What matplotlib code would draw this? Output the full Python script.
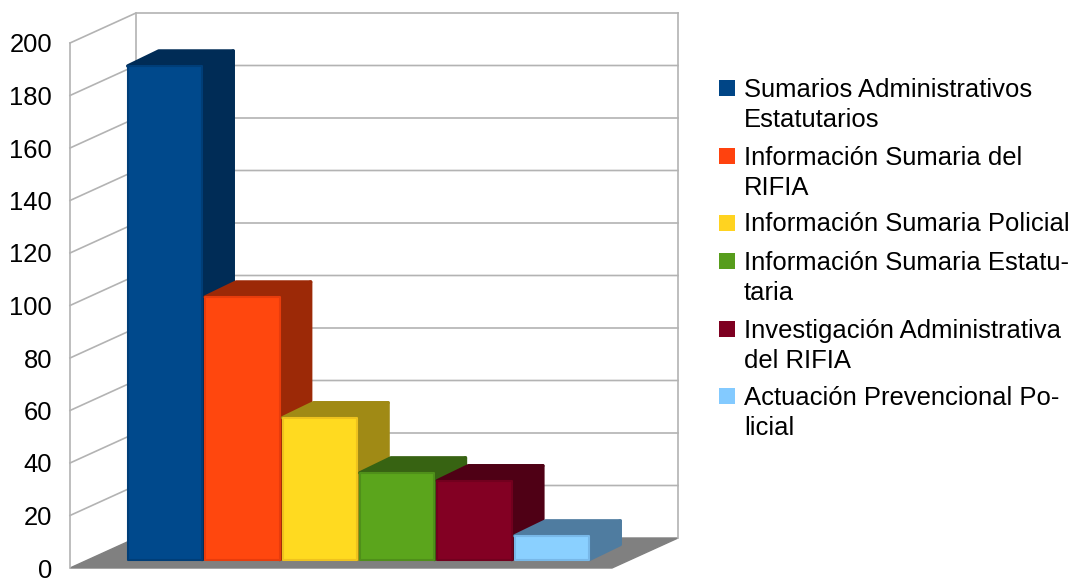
import matplotlib
matplotlib.use('Agg')
import matplotlib.pyplot as plt
from matplotlib.patches import Polygon, Rectangle
from matplotlib.transforms import Affine2D

plt.rcParams['font.family'] = ['Liberation Sans', 'DejaVu Sans']

WIDTH = 1075
HEIGHT = 578

# Chart values
values = [188, 100, 54, 33, 30, 9]
tick_values = [0, 20, 40, 60, 80, 100, 120, 140, 160, 180, 200]
legend_colors = ['#004586', '#ff420e', '#ffd320', '#579d1c', '#7e0021', '#83caff']
front_colors = ['#00498c', '#ff470e', '#ffda20', '#5ba51c', '#830023', '#8ad0ff']
side_colors = ['#002c56', '#9c2907', '#a08a15', '#376312', '#4f0015', '#4f7ca0']
edge_colors = ['#003e78', '#e83c0c', '#eec21e', '#4f8f1a', '#72001e', '#78b8e8']
legend_lines = [
    ['Sumarios Administrativos', 'Estatutarios'],
    ['Información Sumaria del', 'RIFIA'],
    ['Información Sumaria Policial'],
    ['Información Sumaria Estatu-', 'taria'],
    ['Investigación Administrativa', 'del RIFIA'],
    ['Actuación Prevencional Po-', 'licial'],
]
legend_baselines = [[97, 127], [165, 195], [231], [270, 300], [338, 368], [405, 435]]
legend_swatch_tops = [80, 148, 215, 253, 321, 388]

# Pixels per value and per bar position
PX_PER_VALUE = 2.625
BAR_PITCH = 77.4
BAR_WIDTH = 74.5 / BAR_PITCH
BAR_START = 165
BAR_BASE = 559.5
DEPTH_X = 31 / BAR_PITCH
DEPTH_Y = 15 / PX_PER_VALUE

GRID = '#b3b3b3'
FONT_SIZE = 18.45

fig = plt.figure(figsize=(WIDTH / 100, HEIGHT / 100), dpi=100)
ax = fig.add_axes([0, 0, 1, 1])
ax.set_xlim(-BAR_START / BAR_PITCH, (WIDTH - BAR_START) / BAR_PITCH)
ax.set_ylim((BAR_BASE - HEIGHT) / PX_PER_VALUE, BAR_BASE / PX_PER_VALUE)
ax.axis('off')

# Pixel coordinates, origin top left, for the frame and the legend
px = Affine2D().scale(1 / WIDTH, -1 / HEIGHT).translate(0, 1) + fig.transFigure

# floor
ax.add_patch(Polygon([(70, 568), (612, 568), (678, 538), (136, 538)], closed=True,
                     facecolor='#808080', edgecolor='#808080', lw=1, transform=px, zorder=1))

# walls
ax.plot([70, 70], [568, 43], color=GRID, lw=1.2, transform=px, zorder=2)
ax.plot([136, 136], [538, 13], color=GRID, lw=1.2, transform=px, zorder=2)
ax.plot([678, 678], [538, 13], color=GRID, lw=1.2, transform=px, zorder=2)
for v in tick_values:
    front_y = 568 - PX_PER_VALUE * v
    back_y = 538 - PX_PER_VALUE * v
    if v > 0:
        ax.plot([70, 136, 678], [front_y, back_y, back_y], color=GRID, lw=1.2,
                transform=px, zorder=2)
    ax.text(52, front_y + 9.5, str(v), ha='right', va='baseline', fontsize=FONT_SIZE,
            color='black', transform=px)

# bars, left to right so each one covers the side of the one before
for i, v in enumerate(values):
    z = 3 + i
    left = i - BAR_WIDTH / 2
    right = i + BAR_WIDTH / 2
    side = [(right, 0), (right + DEPTH_X, DEPTH_Y), (right + DEPTH_X, v + DEPTH_Y), (right, v)]
    top = [(left, v), (left + DEPTH_X, v + DEPTH_Y), (right + DEPTH_X, v + DEPTH_Y), (right, v)]
    for face in (side, top):
        ax.add_patch(Polygon(face, closed=True, facecolor=side_colors[i], edgecolor=side_colors[i],
                             lw=2.5, joinstyle='round', zorder=z))
    ax.bar(i, v, width=BAR_WIDTH, color=front_colors[i], edgecolor=edge_colors[i], lw=1.5,
           joinstyle='round', zorder=z + 0.5)

# legend
for i, lines in enumerate(legend_lines):
    ax.add_patch(Rectangle((719, legend_swatch_tops[i]), 16, 16, facecolor=legend_colors[i],
                           edgecolor='none', transform=px, zorder=10))
    for line, y in zip(lines, legend_baselines[i]):
        ax.text(744, y, line, ha='left', va='baseline', fontsize=FONT_SIZE, color='black', transform=px)

fig.savefig('out.png', dpi=100)
